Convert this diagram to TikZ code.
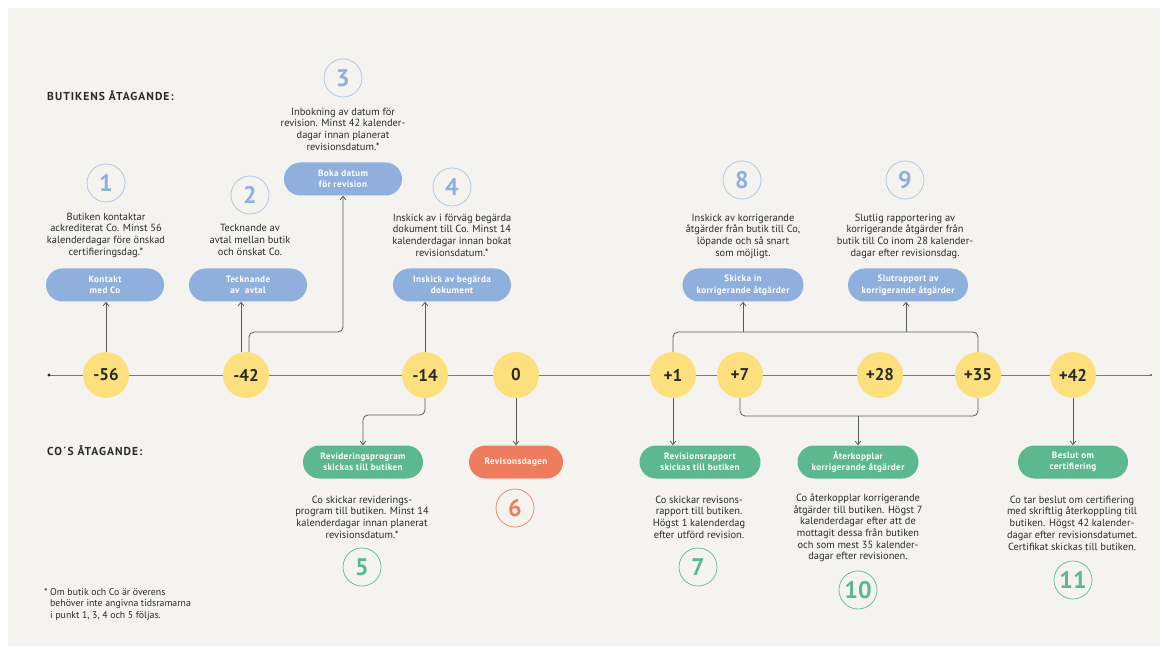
\documentclass[tikz,border=0pt]{standalone}
\usepackage{fontspec}
\setmainfont{PT Sans}
\usetikzlibrary{arrows.meta,calc}
\definecolor{panel}{HTML}{F4F3EF}
\definecolor{bluebox}{HTML}{8FAFDC}
\definecolor{bluering}{HTML}{A9C2E6}
\definecolor{greenbox}{HTML}{5CB88E}
\definecolor{orangebox}{HTML}{EE7D5F}
\definecolor{yellowc}{HTML}{FDE07E}
\definecolor{linec}{HTML}{5A5A5A}
\definecolor{txt}{HTML}{2A2A2A}
\tikzset{
  yc/.style={circle, fill=yellowc, minimum size=46pt, inner sep=0pt, text=txt,
    font=\fontsize{17}{17}\selectfont\bfseries},
  pill/.style={rounded corners=16.5pt, minimum height=33pt, inner sep=2pt, text=white, align=center,
    font=\fontsize{9.2}{11.4}\selectfont\bfseries\addfontfeature{LetterSpace=4}},
  bbox/.style={pill, fill=bluebox, minimum width=118pt},
  gbox/.style={pill, fill=greenbox, minimum width=121pt},
  obox/.style={pill, fill=orangebox, minimum width=94pt},
  numc/.style={circle, draw=#1, line width=0.7pt, minimum size=38pt, inner sep=0pt,
    font=\fontsize{24}{24}\selectfont\bfseries},
  desc/.style={align=center, text=txt, font=\fontsize{10.4}{11.7}\selectfont},
  head/.style={anchor=west, inner sep=0pt, text=txt, font=\fontsize{11.5}{13}\selectfont\bfseries\addfontfeature{LetterSpace=9}},
  foot/.style={anchor=north west, align=left, text=txt, font=\fontsize{9.8}{11.5}\selectfont},
  conn/.style={draw=linec, line width=0.8pt},
  arr/.style={conn, -{Straight Barb[length=3.5pt,width=5.5pt]}},
}
\begin{document}
\begin{tikzpicture}[x=1pt,y=-1pt]
\useasboundingbox (0,0) rectangle (1167,652);
\fill[white] (0,0) rectangle (1167,652);
\fill[panel] (8,8) rectangle (1160,646);

% headings
\node[head] (h1) at (47,96) {BUTIKENS ÅTAGANDE:};
\node[head] (h2) at (47,451) {CO´S ÅTAGANDE:};

% timeline
\coordinate (tl0) at (49,375);
\coordinate (tl1) at (1151,375);
\draw[draw=linec!80, line width=1pt] (tl0) -- (tl1);
\fill[txt] (tl0) circle (1.6);
\fill[linec] (tl1) circle (1.2);

\node[yc] (n56) at (106,375) {-56};
\node[yc] (n42) at (246,375) {-42};
\node[yc] (n14) at (425,375) {-14};
\node[yc] (n0)  at (516,375) {0};
\node[yc] (p1)  at (673,375) {+1};
\node[yc] (p7)  at (740,375) {+7};
\node[yc] (p28) at (880,375) {+28};
\node[yc] (p35) at (978,375) {+35};
\node[yc] (p42) at (1073,375) {+42};

% blue boxes
\node[bbox] (b1) at (105,285) {Kontakt\\med Co};
\node[bbox] (b2) at (248,285) {Tecknande\\av\ \ avtal};
\node[bbox] (b3) at (343,179) {Boka datum\\för revision};
\node[bbox] (b4) at (452,285) {Inskick av begärda\\dokument};
\node[bbox, minimum width=121pt] (b8) at (743,285) {Skicka in\\korrigerande åtgärder};
\node[bbox, minimum width=120pt] (b9) at (908,285) {Slutrapport av\\korrigerande åtgärder};

% green / orange boxes
\node[gbox, minimum width=120pt] (g5) at (363,462) {Revideringsprogram\\skickas till butiken};
\node[obox] (o6) at (516,462) {Revisonsdagen};
\node[gbox] (g7) at (700,462) {Revisionsrapport\\skickas till butiken};
\node[gbox] (g10) at (858,462) {Återkopplar\\korrigerande åtgärder};
\node[gbox, minimum width=110pt] (g11) at (1073,462) {Beslut om\\certifiering};

% number circles
\node[numc=bluering, text=bluebox] (c1) at (106,183) {1};
\node[numc=bluering, text=bluebox] (c2) at (250,195) {2};
\node[numc=bluering, text=bluebox] (c3) at (343,78) {3};
\node[numc=bluering, text=bluebox] (c4) at (452,187) {4};
\node[numc=bluering, text=bluebox] (c8) at (742,180) {8};
\node[numc=bluering, text=bluebox] (c9) at (905,180) {9};
\node[numc=greenbox, text=greenbox] (c5) at (362,567) {5};
\node[numc=orangebox, text=orangebox] (c6) at (515,508) {6};
\node[numc=greenbox, text=greenbox] (c7) at (698,567) {7};
\node[numc=greenbox, text=greenbox] (c10) at (858,590) {10};
\node[numc=greenbox, text=greenbox] (c11) at (1073,580) {11};

% descriptions
\node[desc] (d1) at (106,235) {Butiken kontaktar\\ackrediterat Co. Minst 56\\kalenderdagar före önskad\\certifieringsdag.*};
\node[desc] (d2) at (250,240) {Tecknande av\\avtal mellan butik\\och önskat Co.};
\node[desc] (d3) at (343,129) {Inbokning av datum för\\revision. Minst 42 kalender-\\dagar innan planerat\\revisionsdatum.*};
\node[desc] (d4) at (452,235) {Inskick av i förväg begärda\\dokument till Co. Minst 14\\kalenderdagar innan bokat\\revisionsdatum.*};
\node[desc] (d8) at (743,236) {Inskick av korrigerande\\åtgärder från butik till Co,\\löpande och så snart\\som möjligt.};
\node[desc] (d9) at (905,236) {Slutlig rapportering av\\korrigerande åtgärder från\\butik till Co inom 28 kalender-\\dagar efter revisionsdag.};
\node[desc] (d5) at (362,517) {Co skickar reviderings-\\program till butiken. Minst 14\\kalenderdagar innan planerat\\revisionsdatum.*};
\node[desc] (d7) at (699,517) {Co skickar revisons-\\rapport till butiken.\\Högst 1 kalenderdag\\efter utförd revision.};
\node[desc] (d10) at (858,528) {Co återkopplar korrigerande\\åtgärder till butiken. Högst 7\\kalenderdagar efter att de\\mottagit dessa från butiken\\och som mest 35 kalender-\\dagar efter revisionen.};
\node[desc] (d11) at (1072,523) {Co tar beslut om certifiering\\med skriftlig återkoppling till\\butiken. Högst 42 kalender-\\dagar efter revisionsdatumet.\\Certifikat skickas till butiken.};

% footnote
\node[foot, inner sep=0pt] (fs) at (44,588) {*};
\node[foot, inner sep=0pt] (fn) at (50,588) {Om butik och Co är överens\\behöver inte angivna tidsramarna\\i punkt 1, 3, 4 och 5 följas.};

% connectors
\coordinate (upY) at (0,332);
\coordinate (dnY) at (0,415);
\coordinate (dnY2) at (0,416);
\draw[arr] (n56.north) -- (n56.north |- b1.south);
\coordinate (k42a) at ($(n42.north)+(-5,0.6)$);
\draw[arr] (k42a) -- (k42a |- b2.south);
\coordinate (k42b) at ($(n42.north)+(3,0.2)$);
\draw[arr, rounded corners=5pt] (k42b) -- (k42b |- upY) -| (b3.south);
\draw[arr] (n14.north) -- (n14.north |- b4.south);
\draw[arr, rounded corners=5pt] (n14.south) -- (n14.south |- dnY) -| (g5.north);
\draw[arr] (n0.south) -- (n0.south |- o6.north);
\draw[arr] (p1.south) -- (p1.south |- g7.north);
\draw[conn, rounded corners=5pt] (p1.north) -- (p1.north |- upY) -| (p35.north);
\draw[arr] (b8.south |- upY) -- (b8.south);
\coordinate (k9) at ($(b9.south)+(-2,0)$);
\draw[arr] (k9 |- upY) -- (k9);
\draw[conn, rounded corners=5pt] (p7.south) -- (p7.south |- dnY2) -| (p35.south);
\draw[arr] (g10.north |- dnY2) -- (g10.north);
\draw[arr] (p42.south) -- (p42.south |- g11.north);
\end{tikzpicture}
\end{document}
